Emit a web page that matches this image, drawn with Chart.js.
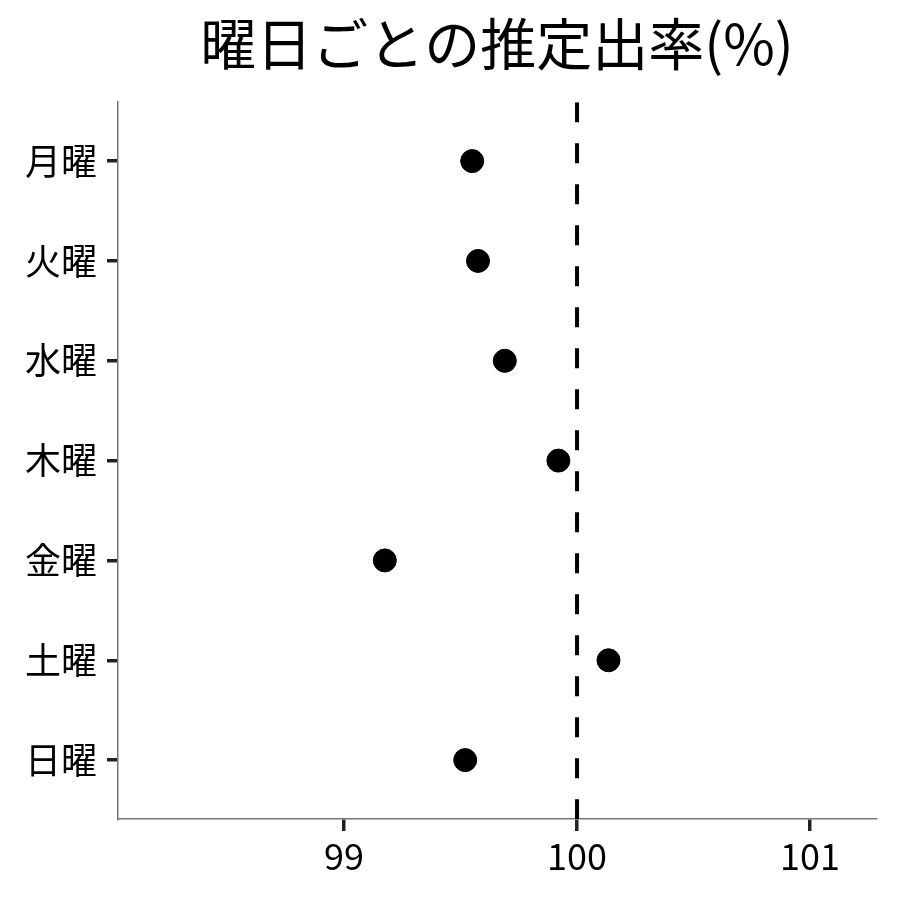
<!DOCTYPE html>
<html>
<head>
<meta charset="utf-8">
<script src="https://cdn.jsdelivr.net/npm/chart.js@4.4.1/dist/chart.umd.min.js"></script>
<style>
  html, body { margin: 0; background: #fff; }
</style>
</head>
<body>
<canvas id="grafico" width="900" height="900"></canvas>
<script>
// datos del gráfico
const dias = ["月曜", "火曜", "水曜", "木曜", "金曜", "土曜", "日曜"];
const tasas = [99.55, 99.575, 99.69, 99.92, 99.175, 100.135, 99.52];
const ticksX = [99, 100, 101];
const referencia = 100;
const titulo = "曜日ごとの推定出率(%)";

const fuente = "'Noto Sans CJK JP', 'Noto Sans', sans-serif";
const yMin = 0.41;
const yMax = dias.length + 0.59;

const canvas = document.getElementById("grafico");

const config = {
  type: "scatter",
  data: {
    datasets: [
      {
        data: tasas.map((v, i) => ({ x: v, y: i + 1 })),
        backgroundColor: "#000",
        borderColor: "#000",
        pointRadius: 11.5,
        pointHoverRadius: 11.5,
      },
      {
        type: "line",
        data: [
          { x: referencia, y: yMin },
          { x: referencia, y: yMax },
        ],
        borderColor: "#000",
        borderWidth: 4,
        borderDash: [20, 21],
        pointRadius: 0,
        fill: false,
      },
    ],
  },
  options: {
    responsive: false,
    animation: false,
    layout: { padding: { left: 0, right: 24, top: 0, bottom: 0 } },
    plugins: {
      legend: { display: false },
      tooltip: { enabled: false },
      title: {
        display: true,
        text: titulo,
        fullSize: false,
        color: "#000",
        font: { family: fuente, size: 56, weight: "normal", lineHeight: 1.2 },
        padding: { top: 10, bottom: 25 },
      },
    },
    scales: {
      x: {
        type: "linear",
        min: 98.03,
        max: 101.283,
        afterBuildTicks: (scale) => {
          scale.ticks = ticksX.map((v) => ({ value: v }));
        },
        afterFit: (scale) => {
          scale.height = 81;
        },
        grid: {
          drawOnChartArea: false,
          drawTicks: true,
          tickLength: 12,
          color: "#222",
          lineWidth: 3.5,
        },
        border: { color: "#777", width: 1.5 },
        ticks: {
          color: "#000",
          padding: 4,
          font: { family: fuente, size: 36 },
          callback: (v) => String(v),
        },
      },
      y: {
        type: "linear",
        min: yMin,
        max: yMax,
        reverse: true,
        afterBuildTicks: (scale) => {
          scale.ticks = dias.map((d, i) => ({ value: i + 1 }));
        },
        afterFit: (scale) => {
          scale.width = 118;
        },
        grid: {
          drawOnChartArea: false,
          drawTicks: true,
          tickLength: 11,
          color: "#222",
          lineWidth: 3.5,
        },
        border: { color: "#777", width: 1.5 },
        ticks: {
          color: "#000",
          padding: 10,
          font: { family: fuente, size: 36 },
          callback: (v) => dias[Math.round(v) - 1] || "",
        },
      },
    },
  },
};

new Chart(canvas, config);
</script>
</body>
</html>
